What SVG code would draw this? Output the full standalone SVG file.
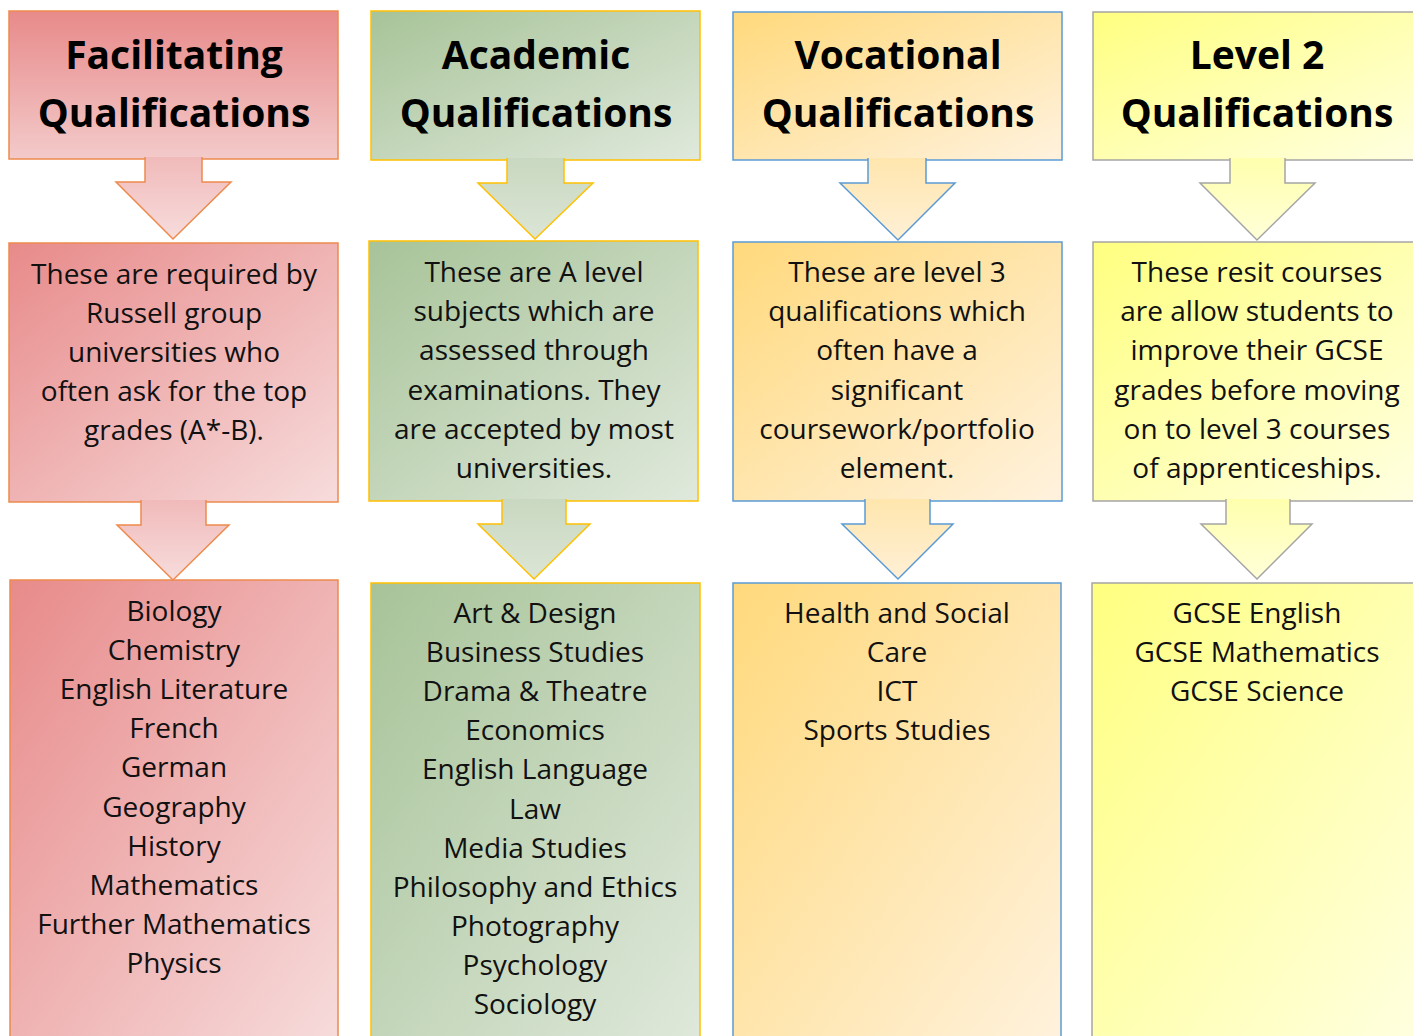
<svg xmlns="http://www.w3.org/2000/svg" width="1413" height="1036" viewBox="0 0 1413 1036">
<defs>
<linearGradient id="gR" x1="0" y1="0" x2="1" y2="1"><stop offset="0" stop-color="#e88a8a"/><stop offset="1" stop-color="#f7dcdc"/></linearGradient>
<linearGradient id="gRv" x1="0" y1="0" x2="0" y2="1"><stop offset="0" stop-color="#e88a8a"/><stop offset="1" stop-color="#f3caca"/></linearGradient>
<linearGradient id="gRa" x1="0" y1="0" x2="0" y2="1"><stop offset="0" stop-color="#f1baba"/><stop offset="1" stop-color="#f7dcdc"/></linearGradient>
<linearGradient id="gG" x1="0" y1="0" x2="1" y2="1"><stop offset="0" stop-color="#a7c398"/><stop offset="1" stop-color="#e0e9dc"/></linearGradient>
<linearGradient id="gGa" x1="0" y1="0" x2="0" y2="1"><stop offset="0" stop-color="#c9d8c0"/><stop offset="1" stop-color="#dbe5d6"/></linearGradient>
<linearGradient id="gO" x1="0" y1="0" x2="1" y2="1"><stop offset="0" stop-color="#ffd97c"/><stop offset="1" stop-color="#fff2de"/></linearGradient>
<linearGradient id="gOa" x1="0" y1="0" x2="0" y2="1"><stop offset="0" stop-color="#ffe6ae"/><stop offset="1" stop-color="#fff0d6"/></linearGradient>
<linearGradient id="gY" x1="0" y1="0" x2="1" y2="1"><stop offset="0" stop-color="#ffff80"/><stop offset="1" stop-color="#ffffe2"/></linearGradient>
<linearGradient id="gYa" x1="0" y1="0" x2="0" y2="1"><stop offset="0" stop-color="#ffffae"/><stop offset="1" stop-color="#ffffd8"/></linearGradient>
</defs>
<style>
.r{stroke:#ed8a4c;stroke-width:1.5}
.g{stroke:#ffc000;stroke-width:1.5}
.o{stroke:#5b9bd5;stroke-width:1.5}
.y{stroke:#a5a5a5;stroke-width:1.5}
.h{font-family:"Open Sans","Noto Sans",sans-serif;font-weight:bold;font-size:39px;fill:#000;text-anchor:middle}
.t{font-family:"Open Sans","Noto Sans",sans-serif;font-size:28px;fill:#111;text-anchor:middle}
</style>

<g id="facilitating-header">
<rect class="r" fill="url(#gRv)" x="9" y="11" width="329" height="148"/>
<text class="h" x="174" y="69">Facilitating</text>
<text class="h" x="174" y="127">Qualifications</text>
</g>
<g id="facilitating-desc">
<rect class="r" fill="url(#gR)" x="9" y="243" width="329" height="259"/>
<text class="t"><tspan x="174" y="284">These are required by</tspan><tspan x="174" dy="39">Russell group</tspan><tspan x="174" dy="39">universities who</tspan><tspan x="174" dy="39">often ask for the top</tspan><tspan x="174" dy="39">grades (A*-B).</tspan></text>
</g>
<g id="facilitating-list">
<rect class="r" fill="url(#gR)" x="10" y="580" width="328" height="470"/>
<text class="t"><tspan x="174" y="621">Biology</tspan><tspan x="174" dy="39.1">Chemistry</tspan><tspan x="174" dy="39.1">English Literature</tspan><tspan x="174" dy="39.1">French</tspan><tspan x="174" dy="39.1">German</tspan><tspan x="174" dy="39.1">Geography</tspan><tspan x="174" dy="39.1">History</tspan><tspan x="174" dy="39.1">Mathematics</tspan><tspan x="174" dy="39.1">Further Mathematics</tspan><tspan x="174" dy="39.1">Physics</tspan></text>
</g>

<g id="academic-header">
<rect class="g" fill="url(#gG)" x="371" y="11" width="329" height="149"/>
<text class="h" x="536" y="69">Academic</text>
<text class="h" x="536" y="127">Qualifications</text>
</g>
<g id="academic-desc">
<rect class="g" fill="url(#gG)" x="369" y="241" width="329" height="260"/>
<text class="t"><tspan x="534" y="282">These are A level</tspan><tspan x="534" dy="39.2">subjects which are</tspan><tspan x="534" dy="39.2">assessed through</tspan><tspan x="534" dy="39.2">examinations. They</tspan><tspan x="534" dy="39.2">are accepted by most</tspan><tspan x="534" dy="39.2">universities.</tspan></text>
</g>
<g id="academic-list">
<rect class="g" fill="url(#gG)" x="371" y="583" width="329" height="470"/>
<text class="t"><tspan x="535" y="623">Art &amp; Design</tspan><tspan x="535" dy="39.1">Business Studies</tspan><tspan x="535" dy="39.1">Drama &amp; Theatre</tspan><tspan x="535" dy="39.1">Economics</tspan><tspan x="535" dy="39.1">English Language</tspan><tspan x="535" dy="39.1">Law</tspan><tspan x="535" dy="39.1">Media Studies</tspan><tspan x="535" dy="39.1">Philosophy and Ethics</tspan><tspan x="535" dy="39.1">Photography</tspan><tspan x="535" dy="39.1">Psychology</tspan><tspan x="535" dy="39.1">Sociology</tspan></text>
</g>

<g id="vocational-header">
<rect class="o" fill="url(#gO)" x="733" y="12" width="329" height="148"/>
<text class="h" x="898" y="69">Vocational</text>
<text class="h" x="898" y="127">Qualifications</text>
</g>
<g id="vocational-desc">
<rect class="o" fill="url(#gO)" x="733" y="242" width="329" height="259"/>
<text class="t"><tspan x="897" y="282">These are level 3</tspan><tspan x="897" dy="39.2">qualifications which</tspan><tspan x="897" dy="39.2">often have a</tspan><tspan x="897" dy="39.2">significant</tspan><tspan x="897" dy="39.2">coursework/portfolio</tspan><tspan x="897" dy="39.2">element.</tspan></text>
</g>
<g id="vocational-list">
<rect class="o" fill="url(#gO)" x="733" y="583" width="328" height="470"/>
<text class="t"><tspan x="897" y="623">Health and Social</tspan><tspan x="897" dy="39.1">Care</tspan><tspan x="897" dy="39.1">ICT</tspan><tspan x="897" dy="39.1">Sports Studies</tspan></text>
</g>

<g id="level2-header">
<rect class="y" fill="url(#gY)" x="1093" y="12" width="329" height="148"/>
<text class="h" x="1257" y="69">Level 2</text>
<text class="h" x="1257" y="127">Qualifications</text>
</g>
<g id="level2-desc">
<rect class="y" fill="url(#gY)" x="1093" y="242" width="329" height="259"/>
<text class="t"><tspan x="1257" y="282">These resit courses</tspan><tspan x="1257" dy="39.2">are allow students to</tspan><tspan x="1257" dy="39.2">improve their GCSE</tspan><tspan x="1257" dy="39.2">grades before moving</tspan><tspan x="1257" dy="39.2">on to level 3 courses</tspan><tspan x="1257" dy="39.2">of apprenticeships.</tspan></text>
</g>
<g id="level2-list">
<rect class="y" fill="url(#gY)" x="1092" y="583" width="330" height="470"/>
<text class="t"><tspan x="1257" y="623">GCSE English</tspan><tspan x="1257" dy="39.1">GCSE Mathematics</tspan><tspan x="1257" dy="39.1">GCSE Science</tspan></text>
</g>

<g id="connectors">
<path class="r" fill="url(#gRa)" d="M145,157 V182 H116 L173,239 L231,182 H202 V157"/>
<path class="r" fill="url(#gRa)" d="M141,500 V525 H117 L173,580 L229,525 H206 V500"/>
<path class="g" fill="url(#gGa)" d="M507,158 V183 H478 L535,239 L593,183 H564 V158"/>
<path class="g" fill="url(#gGa)" d="M502,499 V524 H478 L534,579 L590,524 H566 V499"/>
<path class="o" fill="url(#gOa)" d="M868,158 V183 H840 L898,240 L955,183 H926 V158"/>
<path class="o" fill="url(#gOa)" d="M865,499 V524 H842 L898,579 L953,524 H930 V499"/>
<path class="y" fill="url(#gYa)" d="M1230,158 V183 H1200 L1257,240 L1315,183 H1285 V158"/>
<path class="y" fill="url(#gYa)" d="M1226,499 V524 H1201 L1257,579 L1312,524 H1290 V499"/>
</g>
</svg>
